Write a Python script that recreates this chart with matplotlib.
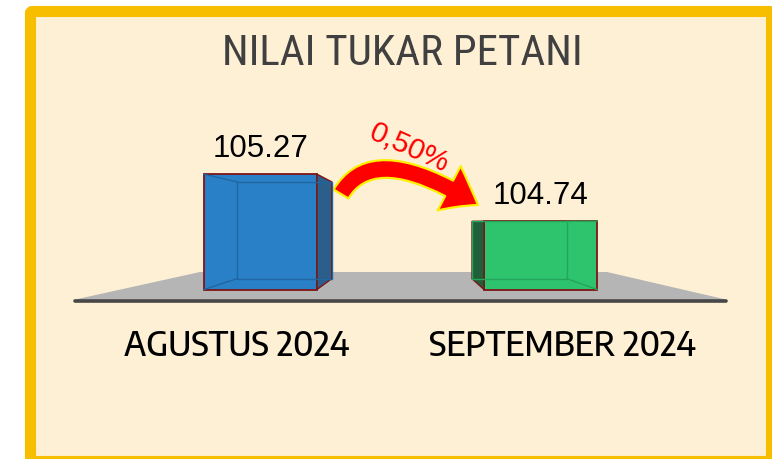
import numpy as np
import matplotlib.pyplot as plt
from matplotlib.patches import Polygon, FancyBboxPatch, FancyArrowPatch
from matplotlib.path import Path

# data
categories = ['AGUSTUS 2024', 'SEPTEMBER 2024']
values = [105.27, 104.74]
value_labels = ['105.27', '104.74']
change_label = '0,50%'
title = 'NILAI TUKAR PETANI'

# colours per bar: front, side, inner edges
front_colors = ['#2A80C6', '#2EC46E']
side_colors = ['#2B5E8A', '#215E3A']
inner_colors = ['#1F66A2', '#24A55A']
edge_red = '#7E1414'

W, H = 772, 460
fig = plt.figure(figsize=(W / 100, H / 100), dpi=100)
fig.patch.set_facecolor('white')

# background / decoration layer in pixel units
bg = fig.add_axes([0, 0, 1, 1], zorder=0)
bg.set_xlim(0, W)
bg.set_ylim(H, 0)
bg.axis('off')

bg.add_patch(FancyBboxPatch((30.5, 12.5), 741, 450,
                            boxstyle='round,pad=0,rounding_size=2',
                            facecolor='#FEF0D5', edgecolor='#F7BE00', linewidth=8))

# floor
bg.add_patch(Polygon([(200, 273), (607, 273), (728, 301), (73, 301)],
                     closed=True, facecolor='#B5B5B5', edgecolor='none'))
bg.plot([75, 726], [302, 302], color='#474747', lw=2.6, solid_capstyle='round')

bg.text(402, 65, title, ha='center', va='baseline', fontsize=31,
        family='Roboto Condensed', color='#404040')

label_x_px = [237, 562.5]
for lx, lab in zip(label_x_px, categories):
    bg.text(lx, 356, lab, ha='center', va='baseline', fontsize=24.8,
            family='Encode Sans Semi Condensed', fontweight='medium', color='black')

# bar layer: x in category units, y in value units
ax = fig.add_axes([0, 0, 1, 1], zorder=1)
ax.patch.set_alpha(0)
ax.axis('off')

x = np.arange(len(categories))
base = 103.97          # value at the floor
first_px, step_px = 260.5, 280.0
base_px, px_per_unit = 290.5, 88.7
ax.set_xlim(-first_px / step_px, (W - first_px) / step_px)
ax.set_ylim(base - (H - base_px) / px_per_unit, base + base_px / px_per_unit)

width = 113 / step_px
vp = np.array([0.53, base + 0.76])   # vanishing point of the boxes
depth = 0.84

ax.bar(x, np.array(values) - base, bottom=base, width=width,
       color=front_colors, edgecolor=edge_red, linewidth=1.3, zorder=3)

for xi, v, side_c, inner_c in zip(x, values, side_colors, inner_colors):
    x0, x1 = xi - width / 2, xi + width / 2
    front = np.array([[x0, base], [x1, base], [x1, v], [x0, v]])
    back = vp + depth * (front - vp)
    # inner (back) edges seen through the front face
    ax.add_patch(Polygon(back, closed=True, facecolor='none',
                         edgecolor=inner_c, linewidth=1.0, zorder=4))
    if xi < vp[0]:
        side = [front[1], back[1], back[2], front[2]]
        hidden = [0, 3]
    else:
        side = [front[0], back[0], back[3], front[3]]
        hidden = [1, 2]
    for k in hidden:
        ax.plot([front[k, 0], back[k, 0]], [front[k, 1], back[k, 1]],
                color=inner_c, lw=1.0, zorder=4)
    ax.add_patch(Polygon(side, closed=True, facecolor=side_c,
                         edgecolor=edge_red, linewidth=1.0, zorder=3))

for xi, v, txt in zip(x, values, value_labels):
    ax.annotate(txt, (xi, v), xytext=(0, 13), textcoords='offset points',
                ha='center', va='baseline', fontsize=22.5,
                family='Liberation Sans', color='black', zorder=5)

# change arrow between the bars
arrow_path = Path([(341, 195), (374, 140), (478, 206)],
                  [Path.MOVETO, Path.CURVE3, Path.CURVE3])
bg.add_patch(FancyArrowPatch(path=arrow_path,
                             arrowstyle='simple,head_length=24,head_width=36,tail_width=12.5',
                             mutation_scale=1, facecolor='#FF0000', edgecolor='#FFF000',
                             linewidth=1.6, transform=bg.transData, zorder=5))
ax.text(409, 148, change_label, transform=bg.transData, rotation=-24,
        rotation_mode='anchor', ha='center', va='center', fontsize=21.5,
        family='Liberation Sans', color='#FF0000', zorder=5)

fig.savefig('out.png', dpi=100)
